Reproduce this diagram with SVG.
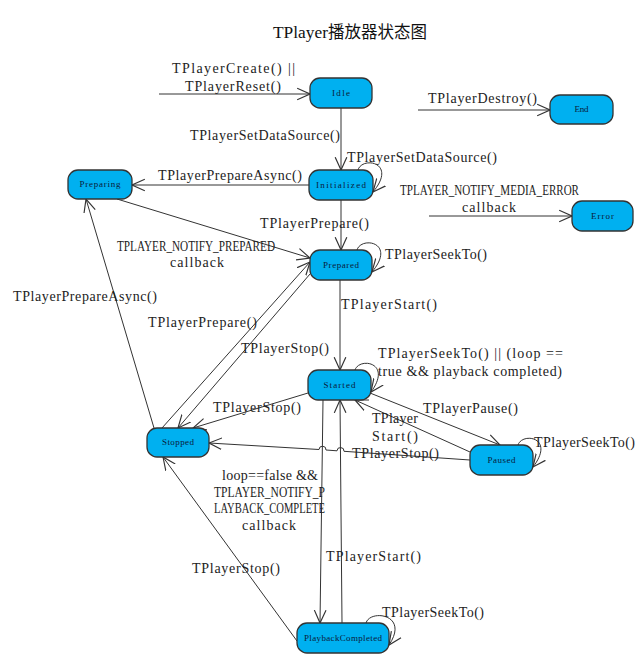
<svg xmlns="http://www.w3.org/2000/svg" width="643" height="656" viewBox="0 0 643 656">
<style>
.node rect{fill:#00B0F0;stroke:#333;stroke-width:1.3}
.node text{font-family:"Liberation Serif",serif;font-size:9px;fill:#0a1a3a;text-anchor:middle}
.lbl{font-family:"Liberation Serif",serif;font-size:14px;fill:#222}
.edge{fill:none;stroke:#333;stroke-width:1;marker-end:url(#arr)}
.title{font-family:"Liberation Serif","Noto Sans CJK SC",serif;font-size:16.5px;fill:#111}
</style>
<defs>
<marker id="arr" markerUnits="userSpaceOnUse" markerWidth="14" markerHeight="14" refX="11" refY="5" orient="auto" viewBox="0 0 12 10">
<path d="M0,0 L11,5 L0,10" fill="none" stroke="#333" stroke-width="1"/>
</marker>
</defs>
<rect width="643" height="656" fill="#fff"/>
<text class="title" x="273" y="38" textLength="55" lengthAdjust="spacingAndGlyphs">TPlayer</text>
<text class="title" x="328" y="38" font-family="Noto Sans CJK SC,sans-serif">播放器状态图</text>

<g id="connectors">
<path class="edge" d="M159,94 L310,94"/>
<path class="edge" d="M341,108 L341,170"/>
<path class="edge" d="M358,170 C362,156 398,162 373,192"/>
<path class="edge" d="M309,185 L132,185"/>
<path class="edge" d="M341,200 L341,250"/>
<path class="edge" d="M117,199 L310,258"/>
<path class="edge" d="M357,250 C361,236 397,242 372,272"/>
<path class="edge" d="M340,280 L340,370"/>
<path class="edge" d="M162,428 L310,262"/>
<path class="edge" d="M310,274 L178,428"/>
<path class="edge" d="M154,428 L86,199"/>
<path class="edge" d="M355,370 C359,357 393,362 371,392"/>
<path class="edge" d="M308,393 L193,428"/>
<path class="edge" d="M370,393 L500,445"/>
<path class="edge" d="M470,452 L355,400"/>
<path class="edge" d="M470,460 L344,451.3 A3.5,3.5 0 0 0 337,450.8 L326,450 A3.5,3.5 0 0 0 319,449.5 L209,443"/>
<path class="edge" d="M518,445 C522,432 556,437 533,467"/>
<path class="edge" d="M323,400 L320,623"/>
<path class="edge" d="M342,623 L340,400"/>
<path class="edge" d="M297,641 L163,457"/>
<path class="edge" d="M366,623 C370,609 410,614 389,645"/>
<path class="edge" d="M418,110 L550,110"/>
<path class="edge" d="M429,216 L572,216"/>
</g>

<g id="labels">
<text class="lbl" x="172" y="73" textLength="123">TPlayerCreate() ||</text>
<text class="lbl" x="185" y="91" textLength="96">TPlayerReset()</text>
<text class="lbl" x="190" y="140" textLength="150">TPlayerSetDataSource()</text>
<text class="lbl" x="347" y="162" textLength="150">TPlayerSetDataSource()</text>
<text class="lbl" x="158" y="180" textLength="144">TPlayerPrepareAsync()</text>
<text class="lbl" x="260" y="228" textLength="109">TPlayerPrepare()</text>
<text class="lbl" x="117" y="251" textLength="158" lengthAdjust="spacingAndGlyphs">TPLAYER_NOTIFY_PREPARED</text>
<text class="lbl" x="170" y="267" textLength="54">callback</text>
<text class="lbl" x="400" y="195" textLength="179" lengthAdjust="spacingAndGlyphs">TPLAYER_NOTIFY_MEDIA_ERROR</text>
<text class="lbl" x="462" y="212" textLength="54">callback</text>
<text class="lbl" x="385" y="259" textLength="102">TPlayerSeekTo()</text>
<text class="lbl" x="428" y="103" textLength="109">TPlayerDestroy()</text>
<text class="lbl" x="341" y="309" textLength="96">TPlayerStart()</text>
<text class="lbl" x="13" y="301" textLength="144">TPlayerPrepareAsync()</text>
<text class="lbl" x="148" y="327" textLength="109">TPlayerPrepare()</text>
<text class="lbl" x="241" y="353" textLength="88">TPlayerStop()</text>
<text class="lbl" x="213" y="412" textLength="88">TPlayerStop()</text>
<text class="lbl" x="378" y="358" textLength="185">TPlayerSeekTo() || (loop ==</text>
<text class="lbl" x="378" y="376" textLength="184">true &amp;&amp; playback completed)</text>
<text class="lbl" x="423" y="413" textLength="95">TPlayerPause()</text>
<text class="lbl" x="372" y="423" textLength="46">TPlayer</text>
<text class="lbl" x="372" y="441" textLength="46">Start()</text>
<text class="lbl" x="534" y="447" textLength="101">TPlayerSeekTo()</text>
<text class="lbl" x="352" y="458" textLength="87">TPlayerStop()</text>
<text class="lbl" x="222" y="480" textLength="96">loop==false &amp;&amp;</text>
<text class="lbl" x="214" y="497" textLength="111" lengthAdjust="spacingAndGlyphs">TPLAYER_NOTIFY_P</text>
<text class="lbl" x="214" y="513" textLength="111" lengthAdjust="spacingAndGlyphs">LAYBACK_COMPLETE</text>
<text class="lbl" x="242" y="530" textLength="54">callback</text>
<text class="lbl" x="326" y="561" textLength="95">TPlayerStart()</text>
<text class="lbl" x="192" y="573" textLength="88">TPlayerStop()</text>
<text class="lbl" x="382" y="617" textLength="102">TPlayerSeekTo()</text>
</g>

<g id="node-idle" class="node"><rect x="310" y="78" width="62" height="30" rx="10"/><text x="341" y="96" textLength="18">Idle</text></g>
<g id="node-end" class="node"><rect x="550" y="95" width="63" height="29" rx="10"/><text x="581.5" y="112" textLength="14">End</text></g>
<g id="node-initialized" class="node"><rect x="309" y="170" width="64" height="30" rx="10"/><text x="341" y="188" textLength="50">Initialized</text></g>
<g id="node-preparing" class="node"><rect x="68" y="170" width="64" height="29" rx="10"/><text x="100" y="187" textLength="41">Preparing</text></g>
<g id="node-error" class="node"><rect x="572" y="201" width="61" height="30" rx="10"/><text x="602.5" y="219" textLength="23">Error</text></g>
<g id="node-prepared" class="node"><rect x="310" y="250" width="62" height="30" rx="10"/><text x="341" y="268" textLength="36">Prepared</text></g>
<g id="node-started" class="node"><rect x="308" y="370" width="63" height="30" rx="10"/><text x="339.5" y="388" textLength="32">Started</text></g>
<g id="node-stopped" class="node"><rect x="147" y="428" width="62" height="29" rx="10"/><text x="178" y="445" textLength="32">Stopped</text></g>
<g id="node-paused" class="node"><rect x="470" y="445" width="63" height="30" rx="10"/><text x="501.5" y="463" textLength="28">Paused</text></g>
<g id="node-playbackcompleted" class="node"><rect x="297" y="623" width="92" height="30" rx="10"/><text x="343" y="641" textLength="78">PlaybackCompleted</text></g>
</svg>
